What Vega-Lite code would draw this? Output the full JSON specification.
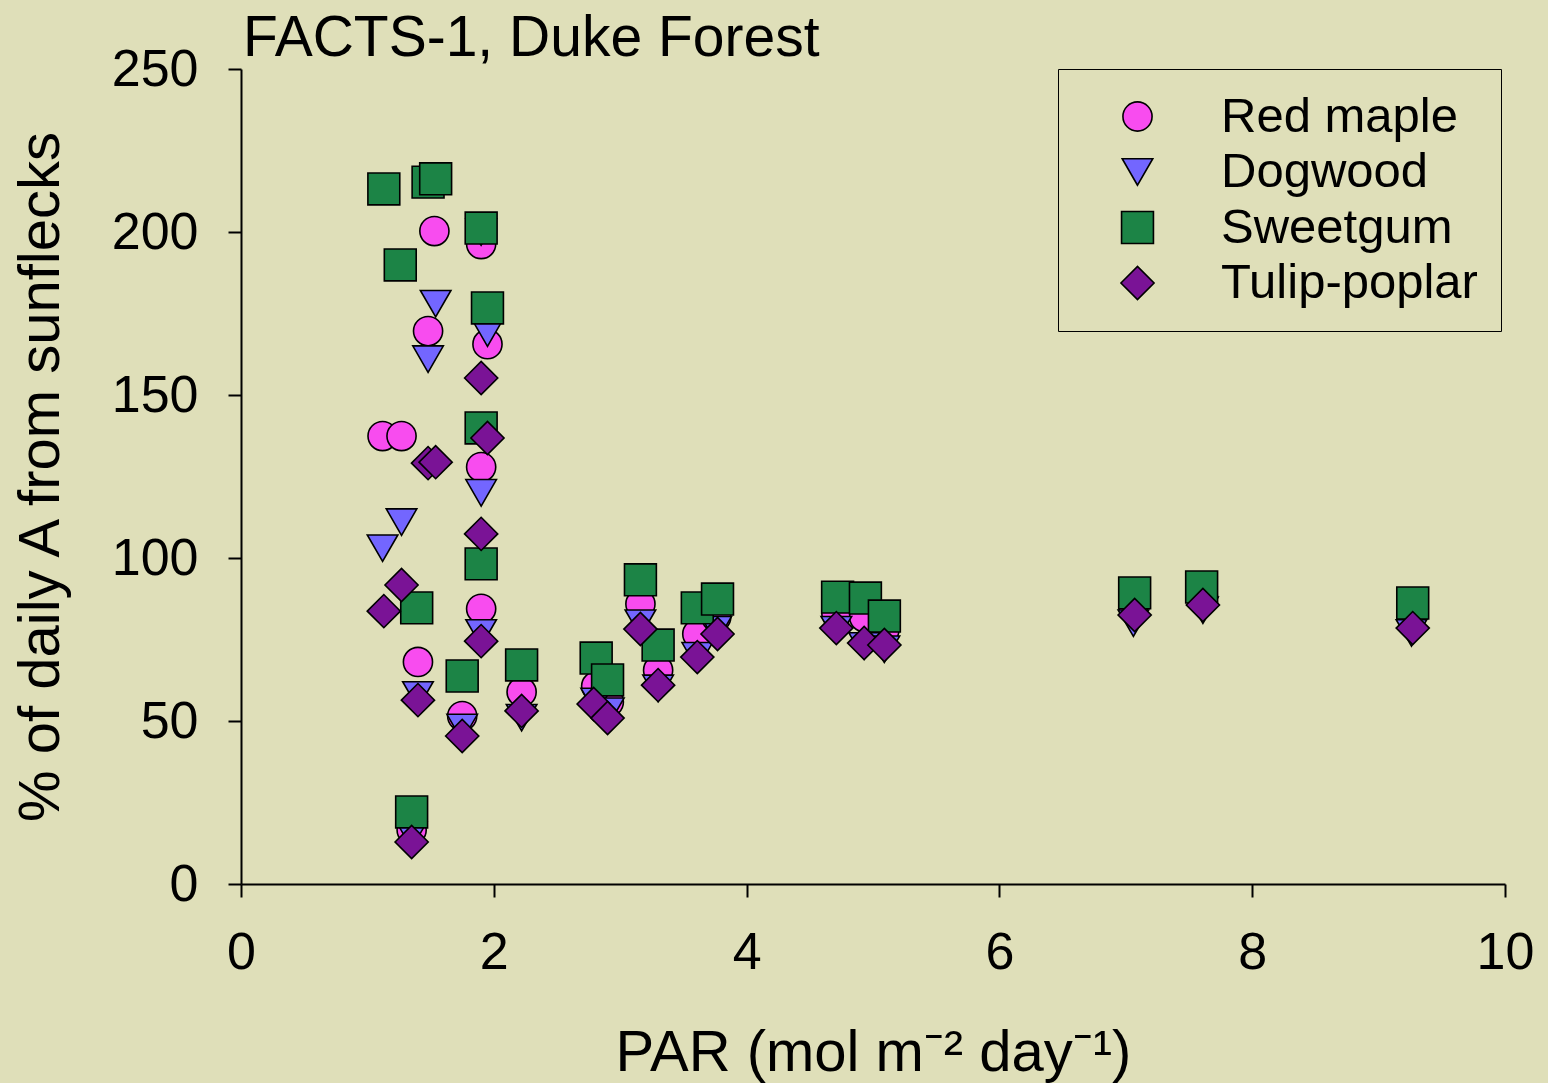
{
  "$schema": "https://vega.github.io/schema/vega-lite/v6.json",
  "width": 1264,
  "height": 815,
  "autosize": {"type": "none"},
  "padding": {"left": 241, "top": 69, "right": 43, "bottom": 199},
  "background": "#DFDFB9",
  "title": {
    "text": "FACTS-1, Duke Forest",
    "anchor": "start",
    "frame": "group",
    "orient": "top",
    "baseline": "bottom",
    "offset": 0,
    "dy": 82,
    "dx": 2,
    "font": "Liberation Sans",
    "fontSize": 57,
    "fontWeight": "normal",
    "color": "#000000"
  },
  "config": {
    "view": {"stroke": null},
    "font": "Liberation Sans",
    "axis": {
      "domainColor": "#000000",
      "domainWidth": 2,
      "tickColor": "#000000",
      "tickWidth": 2,
      "tickSize": 13,
      "grid": false,
      "labelFont": "Liberation Sans",
      "labelFontSize": 52,
      "labelColor": "#000000",
      "titleFont": "Liberation Sans",
      "titleFontSize": 58,
      "titleFontWeight": "normal",
      "titleColor": "#000000"
    },
    "legend": {
      "labelFont": "Liberation Sans",
      "labelFontSize": 49,
      "labelColor": "#000000",
      "labelLimit": 500
    }
  },
  "data": {
    "values": [
      {"species": "Red maple", "par": 1.12, "pct": 137.4},
      {"species": "Red maple", "par": 1.27, "pct": 137.4},
      {"species": "Red maple", "par": 1.53, "pct": 200.3},
      {"species": "Red maple", "par": 1.48, "pct": 169.6},
      {"species": "Red maple", "par": 1.40, "pct": 68.1},
      {"species": "Red maple", "par": 1.75, "pct": 51.5},
      {"species": "Red maple", "par": 1.90, "pct": 196.3},
      {"species": "Red maple", "par": 1.95, "pct": 165.6},
      {"species": "Red maple", "par": 1.90, "pct": 127.9},
      {"species": "Red maple", "par": 1.90, "pct": 84.4},
      {"species": "Red maple", "par": 1.35, "pct": 16.6},
      {"species": "Red maple", "par": 2.22, "pct": 58.9},
      {"species": "Red maple", "par": 2.81, "pct": 60.7},
      {"species": "Red maple", "par": 2.91, "pct": 55.8},
      {"species": "Red maple", "par": 3.16, "pct": 85.9},
      {"species": "Red maple", "par": 3.30, "pct": 65.6},
      {"species": "Red maple", "par": 3.61, "pct": 76.7},
      {"species": "Red maple", "par": 3.76, "pct": 81.9},
      {"species": "Red maple", "par": 4.71, "pct": 83.1},
      {"species": "Red maple", "par": 4.93, "pct": 81.9},
      {"species": "Red maple", "par": 5.09, "pct": 77.9},
      {"species": "Red maple", "par": 7.06, "pct": 85.3},
      {"species": "Red maple", "par": 7.61, "pct": 88.0},
      {"species": "Red maple", "par": 9.26, "pct": 82.8},
      {"species": "Dogwood", "par": 1.12, "pct": 103},
      {"species": "Dogwood", "par": 1.27, "pct": 111},
      {"species": "Dogwood", "par": 1.54, "pct": 178},
      {"species": "Dogwood", "par": 1.48, "pct": 161},
      {"species": "Dogwood", "par": 1.90, "pct": 200},
      {"species": "Dogwood", "par": 1.95, "pct": 169},
      {"species": "Dogwood", "par": 1.90, "pct": 120},
      {"species": "Dogwood", "par": 1.90, "pct": 77},
      {"species": "Dogwood", "par": 1.40, "pct": 58},
      {"species": "Dogwood", "par": 1.75, "pct": 48},
      {"species": "Dogwood", "par": 1.35, "pct": 15},
      {"species": "Dogwood", "par": 2.22, "pct": 51},
      {"species": "Dogwood", "par": 2.81, "pct": 56},
      {"species": "Dogwood", "par": 2.91, "pct": 53},
      {"species": "Dogwood", "par": 3.16, "pct": 80},
      {"species": "Dogwood", "par": 3.30, "pct": 60},
      {"species": "Dogwood", "par": 3.61, "pct": 70},
      {"species": "Dogwood", "par": 3.76, "pct": 78},
      {"species": "Dogwood", "par": 4.71, "pct": 78},
      {"species": "Dogwood", "par": 4.93, "pct": 73},
      {"species": "Dogwood", "par": 5.09, "pct": 72},
      {"species": "Dogwood", "par": 7.06, "pct": 80},
      {"species": "Dogwood", "par": 7.61, "pct": 84},
      {"species": "Dogwood", "par": 9.26, "pct": 77},
      {"species": "Sweetgum", "par": 1.13, "pct": 213.2},
      {"species": "Sweetgum", "par": 1.26, "pct": 189.9},
      {"species": "Sweetgum", "par": 1.48, "pct": 215.3},
      {"species": "Sweetgum", "par": 1.54, "pct": 216.3},
      {"species": "Sweetgum", "par": 1.90, "pct": 201.2},
      {"species": "Sweetgum", "par": 1.95, "pct": 176.7},
      {"species": "Sweetgum", "par": 1.90, "pct": 139.9},
      {"species": "Sweetgum", "par": 1.90, "pct": 98.2},
      {"species": "Sweetgum", "par": 1.39, "pct": 84.7},
      {"species": "Sweetgum", "par": 1.75, "pct": 63.8},
      {"species": "Sweetgum", "par": 1.35, "pct": 22.1},
      {"species": "Sweetgum", "par": 2.22, "pct": 67.2},
      {"species": "Sweetgum", "par": 2.81, "pct": 69.3},
      {"species": "Sweetgum", "par": 2.90, "pct": 62.6},
      {"species": "Sweetgum", "par": 3.16, "pct": 93.3},
      {"species": "Sweetgum", "par": 3.30, "pct": 73.3},
      {"species": "Sweetgum", "par": 3.61, "pct": 84.7},
      {"species": "Sweetgum", "par": 3.77, "pct": 87.4},
      {"species": "Sweetgum", "par": 4.72, "pct": 88.0},
      {"species": "Sweetgum", "par": 4.94, "pct": 87.7},
      {"species": "Sweetgum", "par": 5.09, "pct": 82.2},
      {"species": "Sweetgum", "par": 7.07, "pct": 89.3},
      {"species": "Sweetgum", "par": 7.60, "pct": 91.1},
      {"species": "Sweetgum", "par": 9.27, "pct": 86.2},
      {"species": "Tulip-poplar", "par": 1.13, "pct": 83.7},
      {"species": "Tulip-poplar", "par": 1.27, "pct": 91.7},
      {"species": "Tulip-poplar", "par": 1.48, "pct": 129.1},
      {"species": "Tulip-poplar", "par": 1.54, "pct": 129.4},
      {"species": "Tulip-poplar", "par": 1.90, "pct": 155.2},
      {"species": "Tulip-poplar", "par": 1.95, "pct": 136.8},
      {"species": "Tulip-poplar", "par": 1.90, "pct": 107.4},
      {"species": "Tulip-poplar", "par": 1.90, "pct": 74.5},
      {"species": "Tulip-poplar", "par": 1.40, "pct": 56.4},
      {"species": "Tulip-poplar", "par": 1.75, "pct": 45.4},
      {"species": "Tulip-poplar", "par": 1.35, "pct": 12.9},
      {"species": "Tulip-poplar", "par": 2.22, "pct": 53.1},
      {"species": "Tulip-poplar", "par": 2.79, "pct": 55.2},
      {"species": "Tulip-poplar", "par": 2.90, "pct": 50.9},
      {"species": "Tulip-poplar", "par": 3.16, "pct": 78.2},
      {"species": "Tulip-poplar", "par": 3.30, "pct": 61.0},
      {"species": "Tulip-poplar", "par": 3.61, "pct": 69.6},
      {"species": "Tulip-poplar", "par": 3.77, "pct": 76.7},
      {"species": "Tulip-poplar", "par": 4.71, "pct": 78.5},
      {"species": "Tulip-poplar", "par": 4.93, "pct": 73.9},
      {"species": "Tulip-poplar", "par": 5.09, "pct": 73.3},
      {"species": "Tulip-poplar", "par": 7.07, "pct": 82.5},
      {"species": "Tulip-poplar", "par": 7.61, "pct": 85.6},
      {"species": "Tulip-poplar", "par": 9.27, "pct": 78.5}
    ]
  },
  "mark": {"type": "point", "filled": true, "stroke": "#000000", "strokeWidth": 1.6, "opacity": 1},
  "encoding": {
    "x": {
      "field": "par",
      "type": "quantitative",
      "scale": {"domain": [0, 10], "nice": false, "zero": false},
      "axis": {"values": [0, 2, 4, 6, 8, 10], "title": "PAR (mol m⁻² day⁻¹)", "labelPadding": 30, "labelFlush": false, "titlePadding": 46}
    },
    "y": {
      "field": "pct",
      "type": "quantitative",
      "scale": {"domain": [0, 250], "nice": false},
      "axis": {"values": [0, 50, 100, 150, 200, 250], "title": "% of daily A from sunflecks", "labelPadding": 30, "labelFlush": false, "titlePadding": 41}
    },
    "shape": {
      "field": "species",
      "type": "nominal",
      "scale": {"domain": ["Red maple", "Dogwood", "Sweetgum", "Tulip-poplar"], "range": ["circle", "triangle-down", "square", "diamond"]},
      "legend": {
        "title": null,
        "orient": "none",
        "legendX": 817,
        "legendY": 0,
        "strokeColor": "#000000",
        "fillColor": "#DFDFB9",
        "padding": 23,
        "symbolOffset": 32,
        "labelOffset": 59,
        "rowPadding": 5.5,
        "symbolStrokeColor": "#000000",
        "symbolStrokeWidth": 1.6
      }
    },
    "color": {
      "field": "species",
      "type": "nominal",
      "scale": {"domain": ["Red maple", "Dogwood", "Sweetgum", "Tulip-poplar"], "range": ["#F84CEF", "#7366FF", "#1C8446", "#7A1396"]}
    },
    "size": {
      "field": "species",
      "type": "nominal",
      "scale": {"domain": ["Red maple", "Dogwood", "Sweetgum", "Tulip-poplar"], "range": [850, 1100, 784, 1600]}
    }
  }
}
